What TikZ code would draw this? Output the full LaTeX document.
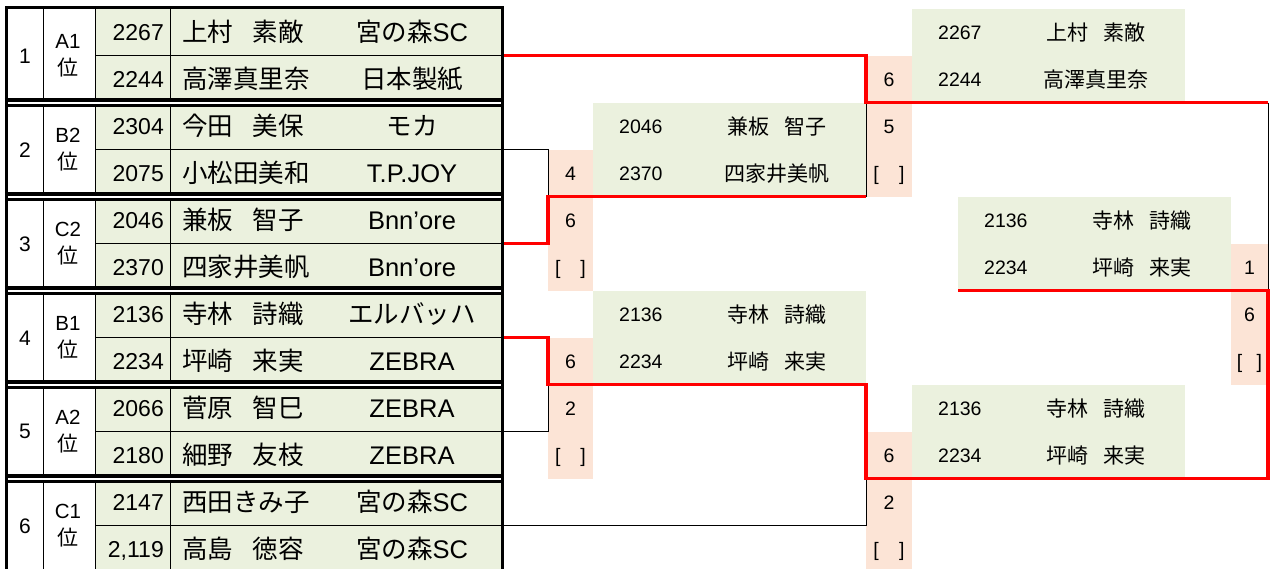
\documentclass[tikz,border=0pt]{standalone}
\usepackage{fontspec}
\setmainfont{Noto Sans CJK JP}
\newfontfamily\lat{Liberation Sans}
\newcommand\gap{\hspace{0.76em}}
\definecolor{cellgreen}{HTML}{EBF1DE}
\definecolor{scoreorange}{HTML}{FCE4D6}
\definecolor{winred}{HTML}{FF0000}

\begin{document}
\begin{tikzpicture}[x=1pt,y=-47pt,
    grp/.style={rectangle, minimum width=496pt, minimum height=94pt, inner sep=0pt, outer sep=0pt},
    wbox/.style={rectangle, fill=cellgreen, minimum width=273pt, minimum height=94pt, inner sep=0pt, outer sep=0pt},
    scbox/.style={rectangle, fill=scoreorange, minimum height=141pt, inner sep=0pt, outer sep=0pt},
    tabtext/.style={font=\fontsize{25.5}{28}\selectfont, inner sep=0pt, text height=19pt, text depth=0pt},
    tabid/.style={font=\lat\fontsize{23}{28}\selectfont, inner sep=0pt, text height=16.5pt, text depth=0pt},
    boxtext/.style={font=\fontsize{21}{24}\selectfont, inner sep=0pt, text height=15.5pt, text depth=0pt},
    boxid/.style={font=\lat\fontsize{19.5}{24}\selectfont, inner sep=0pt, text height=14pt, text depth=0pt},
    seedtext/.style={font=\lat\fontsize{21}{27}\selectfont, inner sep=0pt},
    ranktext/.style={font=\fontsize{21}{27}\selectfont, inner sep=0pt, align=center},
    gridline/.style={draw=black, line width=1pt},
    loser/.style={draw=black, line width=1pt},
    winner/.style={draw=winred, line width=3.2pt}]
    \useasboundingbox (0,-0.18723) rectangle (1271,11.9191);

    % Table background
    \fill[cellgreen] (95,0) rectangle (502.5,12);

    % Bracket boxes
    \foreach \n/\x/\r/\ia/\na/\ib/\nb in {
        w1/593/3/2046/兼板\gap 智子/2370/四家井美帆,
        w2/593/7/2136/寺林\gap 詩織/2234/坪崎\gap 来実,
        w3/912/1/2267/上村\gap 素敵/2244/高澤真里奈,
        w4/912/9/2136/寺林\gap 詩織/2234/坪崎\gap 来実,
        w5/958/5/2136/寺林\gap 詩織/2234/坪崎\gap 来実}
    {
        \node[wbox] (\n) at (\x+136.5,\r) {};
        \node[boxid, anchor=west] at ([xshift=26pt,yshift=23.5pt]\n.west) {\ia};
        \node[boxtext] at ([xshift=47.5pt,yshift=23.5pt]\n.center) {\na};
        \node[boxid, anchor=west] at ([xshift=26pt,yshift=-23.5pt]\n.west) {\ib};
        \node[boxtext] at ([xshift=47.5pt,yshift=-23.5pt]\n.center) {\nb};
    }

    % Score columns
    \foreach \n/\x/\w/\r/\sa/\sb in {
        sc1/548/45/4.5/4/6,
        sc2/548/45/8.5/6/2,
        sc3/866/46/2.5/6/5,
        sc4/866/46/10.5/6/2,
        sc5/1231/37/6.5/1/6}
    {
        \pgfmathsetmacro\bw{0.68*\w}
        \node[scbox, minimum width=\w pt] (\n) at (\x+\w/2,\r) {};
        \node[boxid] at ([yshift=47pt]\n.center) {\sa};
        \node[boxid] at (\n.center) {\sb};
        \node[boxid] at ([yshift=-47pt]\n.center) {\makebox[\bw pt]{[\hfill]}};
    }

    % Groups
    \foreach \g/\rk/\ia/\na/\ca/\ib/\nb/\cb in {
        1/A1/2267/上村\gap 素敵/宮の森\lat SC/2244/高澤真里奈/日本製紙,
        2/B2/2304/今田\gap 美保/モカ/2075/小松田美和/\lat T.P.JOY,
        3/C2/2046/兼板\gap 智子/\lat Bnn’ore/2370/四家井美帆/\lat Bnn’ore,
        4/B1/2136/寺林\gap 詩織/エルバッハ/2234/坪崎\gap 来実/\lat ZEBRA,
        5/A2/2066/菅原\gap 智巳/\lat ZEBRA/2180/細野\gap 友枝/\lat ZEBRA,
        6/C1/2147/西田きみ子/宮の森\lat SC/{2,119}/高島\gap 徳容/宮の森\lat SC}
    {
        \node[grp] (g\g) at (254.5,2*\g-1) {};
        \draw[gridline] (43,2*\g-2) -- (43,2*\g) (95,2*\g-2) -- (95,2*\g)
            (170,2*\g-2) -- (170,2*\g) (95,2*\g-1) -- (502.5,2*\g-1);
        \node[seedtext] at (25,2*\g-1) {\g};
        \node[ranktext] at (68,2*\g-1) {{\lat\fontsize{20.5}{27}\selectfont\rk}\\位};
        \node[tabid, anchor=east] at (164,2*\g-1.5) {\ia};
        \node[tabtext, anchor=west] at (182,2*\g-1.5) {\na};
        \node[tabtext] at (412,2*\g-1.5) {\ca};
        \node[tabid, anchor=east] at (164,2*\g-0.5) {\ib};
        \node[tabtext, anchor=west] at (182,2*\g-0.5) {\nb};
        \node[tabtext] at (412,2*\g-0.5) {\cb};
    }

    % Junctions
    \coordinate (j1) at (sc1.west |- w1.south);
    \coordinate (j2) at (sc2.west |- w2.south);
    \coordinate (j3) at (sc4.west |- w4.south);
    \coordinate (j4) at (sc5.east |- w5.south);
    \coordinate (j5) at (sc5.east |- w3.south);
    \coordinate (j6) at (sc5.east |- j3);

    % Losers
    \draw[loser] (g2.east) -| (j1);
    \draw[loser] (g5.east) -| (j2);
    \draw[loser] (g6.east) -| (j3);
    \draw[loser] (w1.south east) -- (w1.north east);
    \draw[loser] (j5) -- (j4);
    % Winners
    \draw[winner] (g3.east) -| (j1) -- (w1.south east);
    \draw[winner] (g1.east) -| (w1.north east) -- (j5);
    \draw[winner] (g4.east) -| (j2) -- (w2.south east) -- (j3) -- (j6) -- (j4) -- (w5.south west);

    % Table border
    \draw[line width=3.5pt] (6.5,-0.028) rectangle (502.5,12.2);
    \foreach \b in {2,4,...,10} {
        \draw[line width=9.2pt] (4.75,\b) -- (504.25,\b);
        \draw[white, line width=2pt] (8.25,\b) -- (500.75,\b);
    }
\end{tikzpicture}
\end{document}
